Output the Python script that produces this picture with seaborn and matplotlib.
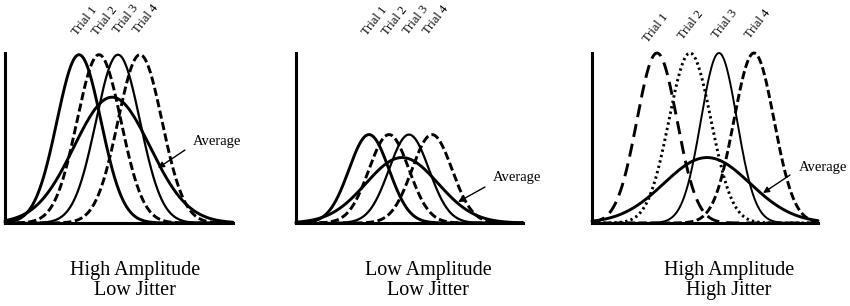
import numpy as np
import pandas as pd
import matplotlib
matplotlib.use("Agg")
import matplotlib.pyplot as plt
import seaborn as sns

# ---------------- data ----------------
trial_labels = ["Trial 1", "Trial 2", "Trial 3", "Trial 4"]
title_line1 = ["High Amplitude", "Low Amplitude", "High Amplitude"]
title_line2 = ["Low Jitter", "Low Jitter", "High Jitter"]

# Gaussian parameters (x in axis units, y as fraction of axis height)
p1_means = [74, 94, 113, 135]
p1_amp = 0.99
p1_sigmas = [22, 22, 22, 22]
p1_avg = [107, 0.74, 38]      # mean, amplitude, sigma

p2_means = [73, 93, 113, 136]
p2_amp = 0.52
p2_sigmas = [20, 20, 20, 20]
p2_avg = [106, 0.385, 36]

p3_means = [65, 98, 127, 162]
p3_amp = 1.0
p3_sigmas = [20, 21, 18, 20]
p3_avg = [115, 0.385, 43]

# ---------------- layout ----------------
W, H = 850, 306
sns.set_theme(style="white")
plt.rcParams["font.family"] = ["Liberation Serif", "DejaVu Serif"]

fig = plt.figure(figsize=(W / 100, H / 100), dpi=100)
fig.patch.set_facecolor("white")

panels = [
    dict(x0=5, width=228, means=p1_means, amp=p1_amp, sigmas=p1_sigmas, avg=p1_avg,
         styles=[("-", 2.1), ((0, (2.8, 1.2)), 2.1), ("-", 1.6), ((0, (2.8, 1.2)), 2.1)],
         lab_pos=[(77, 36), (97, 36), (118, 34), (138, 34)],
         avg_text=(193, 142), arrow_tail=(185, 150), arrow_head=(158, 168),
         title_x=135),
    dict(x0=296, width=227, means=p2_means, amp=p2_amp, sigmas=p2_sigmas, avg=p2_avg,
         styles=[("-", 2.1), ((0, (2.8, 1.2)), 2.1), ("-", 1.6), ((0, (2.8, 1.2)), 2.1)],
         lab_pos=[(367, 36), (387, 36), (408, 35), (428, 35)],
         avg_text=(493, 177), arrow_tail=(485, 187), arrow_head=(458, 202),
         title_x=428),
    dict(x0=592, width=226, means=p3_means, amp=p3_amp, sigmas=p3_sigmas, avg=p3_avg,
         styles=[((0, (4.5, 2.4)), 2.1), ((0, (0.8, 1.1)), 2.1), ("-", 1.4), ((0, (2.8, 1.2)), 2.1)],
         lab_pos=[(648, 43), (683, 40), (717, 39), (750, 39)],
         avg_text=(799, 168), arrow_tail=(790, 175), arrow_head=(763, 193),
         title_x=729),
]

top_px, bot_px = 53, 223


def gauss(x, m, a, s):
    return a * np.exp(-0.5 * ((x - m) / s) ** 2)


def fp(x, y):
    """image pixel (origin top-left) -> figure pixels (origin bottom-left)"""
    return (x, H - y)


for p in panels:
    ax = fig.add_axes([p["x0"] / W, (H - bot_px) / H, p["width"] / W, (bot_px - top_px) / H])
    ax.set_facecolor("white")
    x = np.linspace(0, p["width"], 500)
    for m, s, (ls, lw) in zip(p["means"], p["sigmas"], p["styles"]):
        df = pd.DataFrame({"x": x, "y": gauss(x, m, p["amp"], s)})
        sns.lineplot(data=df, x="x", y="y", ax=ax, color="black", lw=lw,
                     linestyle=ls, clip_on=False)
    am, aa, asg = p["avg"]
    df = pd.DataFrame({"x": x, "y": gauss(x, am, aa, asg)})
    sns.lineplot(data=df, x="x", y="y", ax=ax, color="black", lw=2.1, clip_on=False)

    ax.set_xlim(0, p["width"])
    ax.set_ylim(0, 1.0)
    ax.set_xticks([])
    ax.set_yticks([])
    ax.set_xlabel("")
    ax.set_ylabel("")
    for side in ["top", "right"]:
        ax.spines[side].set_visible(False)
    for side in ["left", "bottom"]:
        ax.spines[side].set_color("black")
        ax.spines[side].set_linewidth(2.2)

    # rotated trial labels
    for lab, (lx, ly) in zip(trial_labels, p["lab_pos"]):
        fig.text(lx / W, (H - ly) / H, lab, rotation=52, rotation_mode="anchor",
                 ha="left", va="baseline", fontsize=9, color="black")

    # Average annotation
    tx, ty = p["avg_text"]
    fig.text(tx / W, (H - ty) / H, "Average", ha="left", va="center",
             fontsize=10.5, color="black")
    ax.annotate("", xy=fp(*p["arrow_head"]), xycoords="figure pixels",
                xytext=fp(*p["arrow_tail"]), textcoords="figure pixels",
                arrowprops=dict(arrowstyle="-|>", color="black", lw=1.0,
                                mutation_scale=9, shrinkA=0, shrinkB=0))

for p, t1, t2 in zip(panels, title_line1, title_line2):
    fig.text(p["title_x"] / W, (H - 275) / H, t1, ha="center", va="baseline",
             fontsize=14.5, color="black")
    fig.text(p["title_x"] / W, (H - 295) / H, t2, ha="center", va="baseline",
             fontsize=14.5, color="black")

fig.savefig("out.png", dpi=100, facecolor="white")
